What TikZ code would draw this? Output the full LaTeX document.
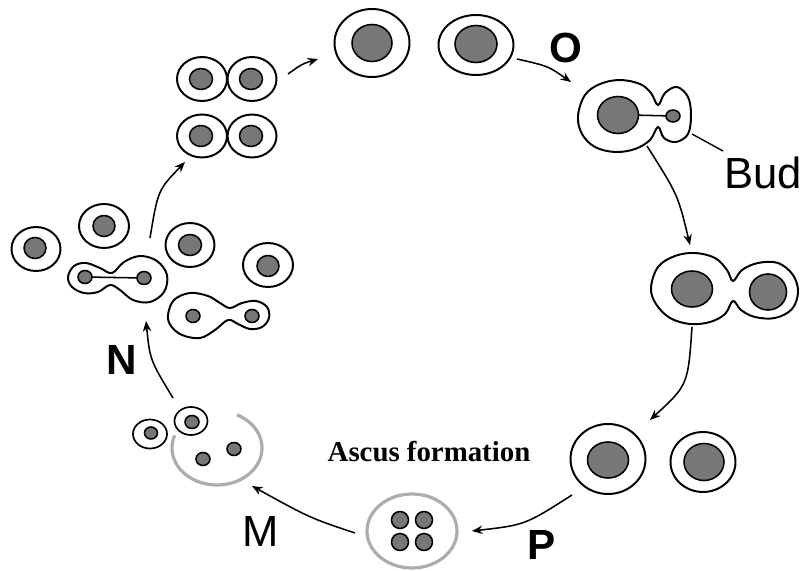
\documentclass[tikz,border=0pt]{standalone}
\usepackage{fontspec}
\setmainfont{Liberation Serif}
\setsansfont{Liberation Sans}
\usetikzlibrary{arrows.meta}

\definecolor{nucgray}{HTML}{777777}
\definecolor{ascgray}{HTML}{ADADAD}

\begin{document}
\begin{tikzpicture}[
  x=0.025cm, y=-0.025cm,
  wall/.style={draw=black, line width=1.4pt, fill=white},
  nucleus/.style={draw=black, line width=1.1pt, fill=nucgray},
  ascuswall/.style={draw=ascgray, line width=2.3pt},
  arr/.style={-{Stealth[length=7.5pt, width=6pt, inset=2.5pt]}, line width=1.1pt},
  stage/.style={font=\fontsize{30}{31}\selectfont\sffamily\bfseries, inner sep=0pt},
  tag/.style={font=\fontsize{31}{32}\selectfont\sffamily, inner sep=0pt},
  caption/.style={font=\fontsize{20.5}{22}\selectfont\bfseries, inner sep=0pt},
]
\useasboundingbox (0,0) rectangle (805,571);

%% ════════════════════════════════════════════════
%% HAPLOID CELLS (top)
%% ════════════════════════════════════════════════

\draw[wall] (372,43) ellipse (37.5 and 34);
\draw[nucleus] (372,43) ellipse (20 and 18.5);
\draw[wall] (476,45) ellipse (37.5 and 30);
\draw[nucleus] (476,44) ellipse (21 and 18.5);

%% Budding cell — mother + bud, nuclei joined
\draw[wall] plot[smooth cycle, tension=0.6] coordinates {
  (578,116) (585,95) (600,84) (620,80) (640,84) (651,93) (658,105)
  (665,93) (677,87) (688,97) (691,115) (688,134) (676,142) (664,138)
  (658,127) (650,140) (635,149) (615,152) (595,147) (582,134)};
\draw[line width=1.1pt] (630,115) -- (673,116);
\draw[nucleus] (618,115) ellipse (20.5 and 18.5);
\draw[nucleus] (673,116) ellipse (7 and 6);

%% Bud pointer
\coordinate (budtip) at (692,134);
\coordinate (budtxt) at (723,151);
\draw[line width=1pt] (budtip) -- (budtxt);
\node[tag] (bud) at (763,173) {Bud};

%% ════════════════════════════════════════════════
%% DIPLOID CELLS (right)
%% ════════════════════════════════════════════════

\draw[wall] plot[smooth cycle, tension=0.6] coordinates {
  (651,288) (658,267) (675,256) (695,253) (715,258) (727,270) (733,281)
  (742,270) (758,263) (778,263) (793,275) (798,292) (792,309) (775,318)
  (755,317) (741,310) (733,301) (725,314) (710,322) (690,324) (670,318)
  (656,304)};
\draw[nucleus] (692,289) ellipse (20.5 and 18);
\draw[nucleus] (768,292) ellipse (18.5 and 18);

\draw[wall] (608,459) ellipse (37.5 and 35);
\draw[nucleus] (608,460) ellipse (20.5 and 18);
\draw[wall] (703,462) ellipse (32.5 and 30);
\draw[nucleus] (704,462) ellipse (20 and 18.5);

%% ════════════════════════════════════════════════
%% ASCUS + SPORES (bottom)
%% ════════════════════════════════════════════════

\draw[ascuswall] (412,531) ellipse (45 and 37);
\draw[nucleus] (400,520) circle (8.5);
\draw[nucleus] (424,520) circle (8.5);
\draw[nucleus] (400,542) circle (8.5);
\draw[nucleus] (424,542) circle (8.5);

\node[caption] (ascus) at (429,452) {Ascus formation};

%% Opened ascus, spores released
\draw[ascuswall] (217,448) ++(-63.7:45 and 37)
  arc[start angle=-63.7, end angle=200, x radius=45, y radius=37];
\draw[nucleus] (203,459) ellipse (7 and 6.5);
\draw[nucleus] (234,449) ellipse (7 and 6.5);
\draw[wall, line width=1.2pt] (150,434) ellipse (17 and 14.5);
\draw[nucleus] (151,433) ellipse (6.5 and 6);
\draw[wall, line width=1.2pt] (191,421) ellipse (16.5 and 14);
\draw[nucleus] (192,422) ellipse (7 and 6.5);

%% ════════════════════════════════════════════════
%% MATING (left)
%% ════════════════════════════════════════════════

\draw[wall] (36,249) ellipse (24.5 and 22);
\draw[nucleus] (35,248) ellipse (11 and 10.5);
\draw[wall] (104,226) ellipse (25 and 22);
\draw[nucleus] (104,226) ellipse (11 and 10.5);
\draw[wall] (190,245) ellipse (24.5 and 22);
\draw[nucleus] (190,245) ellipse (11.5 and 10.5);
\draw[wall] (268,265) ellipse (25 and 22);
\draw[nucleus] (268,266) ellipse (11 and 10.5);

%% Conjugating pairs
\draw[wall] plot[smooth cycle, tension=0.6] coordinates {
  (68,277) (74,266) (86,263) (100,268) (112,273) (124,262) (140,256)
  (157,261) (167,275) (164,292) (150,302) (133,300) (120,290) (110,285)
  (98,292) (84,293) (72,287)};
\draw[line width=1.1pt] (85,277) -- (144,278);
\draw[nucleus] (85,277) ellipse (7 and 6.5);
\draw[nucleus] (144,278) ellipse (7 and 6.5);

\draw[wall] plot[smooth cycle, tension=0.6] coordinates {
  (168,315) (174,300) (190,293) (208,296) (220,303) (230,308) (242,303)
  (256,301) (267,307) (269,318) (262,327) (250,329) (238,324) (228,320)
  (215,330) (200,338) (182,335) (171,326)};
\draw[nucleus] (193,316) ellipse (7 and 6.5);
\draw[nucleus] (252,316) ellipse (7 and 6.5);

%% Zygote divisions
\draw[wall] (202,79) ellipse (25 and 22);
\draw[nucleus] (201,79) ellipse (11.5 and 10.5);
\draw[wall] (252,79) ellipse (24.5 and 22);
\draw[nucleus] (251,79) ellipse (11.5 and 10.5);
\draw[wall] (202,136) ellipse (25 and 21.5);
\draw[nucleus] (201,136) ellipse (11.5 and 10.5);
\draw[wall] (252,136) ellipse (24.5 and 21.5);
\draw[nucleus] (251,136) ellipse (11.5 and 10.5);

%% ════════════════════════════════════════════════
%% CYCLE ARROWS
%% ════════════════════════════════════════════════

\coordinate (divout)  at (288,74);
\coordinate (hapin)   at (318,59);
\coordinate (hapout)  at (517,59);
\coordinate (budin)   at (571,82);
\coordinate (budout)  at (647,146);
\coordinate (dipin)   at (690,245);
\coordinate (dipout)  at (692,327);
\coordinate (pairin)  at (650,420);
\coordinate (pairout) at (572,495);
\coordinate (ascin)   at (472,531);
\coordinate (ascout)  at (355,533);
\coordinate (sporin)  at (252,486);
\coordinate (sporout) at (173,398);
\coordinate (matein)  at (146,321);
\coordinate (mateout) at (150,238);
\coordinate (divin)   at (185,162);

\draw[arr] (divout)  .. controls (302,64)  .. (hapin);
\draw[arr] (hapout)  .. controls (548,66)  .. (budin);
\draw[arr] (budout)  .. controls (678,195) .. (dipin);
\draw[arr] (dipout)  .. controls (688,385) .. (pairin);
\draw[arr] (pairout) .. controls (525,525) .. (ascin);
\draw[arr] (ascout)  .. controls (310,518) .. (sporin);
\draw[arr] (sporout) .. controls (150,360) .. (matein);
\draw[arr] (mateout) .. controls (158,190) .. (divin);

%% Stage letters
\node[stage] (stO) at (566,48)  {O};
\node[stage] (stP) at (542,545) {P};
\node[tag]   (stM) at (261,532) {M};
\node[stage] (stN) at (122,360) {N};

\end{tikzpicture}
\end{document}
